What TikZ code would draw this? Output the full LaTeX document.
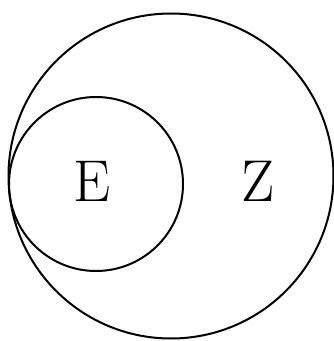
\documentclass[tikz,border=0pt]{standalone}
\usepackage{tikz}
\usetikzlibrary{positioning}

\begin{document}
\begin{tikzpicture}[
    x=1pt, y=1pt,
    ring/.style={draw, circle, line width=2pt, inner sep=0pt},
    lbl/.style={font=\fontsize{59}{64}\selectfont, inner sep=0pt},
  ]
  \useasboundingbox (0,0) rectangle (334,341);
  % --- outer set Z and inner set E ---
  \node[ring, minimum size=325pt] (outer) at (171,165) {};
  \node[ring, minimum size=174pt] (inner) at (96,157) {};

  % --- labels ---
  \node[lbl] (labE) at (92,160) {E};
  \node[lbl] (labZ) at (258,160) {Z};
\end{tikzpicture}
\end{document}
